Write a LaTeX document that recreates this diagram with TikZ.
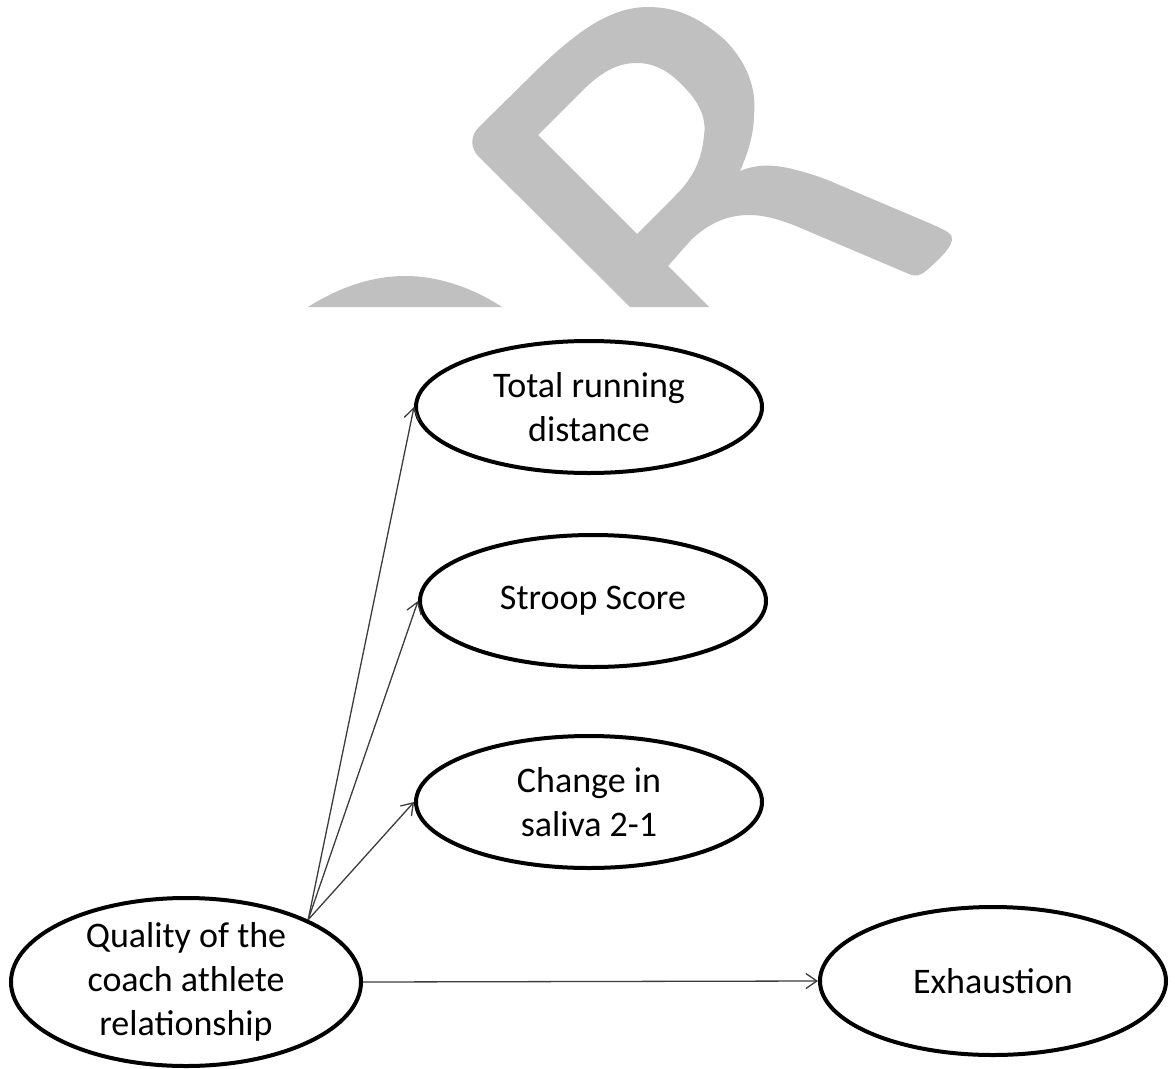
\documentclass[tikz,border=0pt]{standalone}
\usepackage{fontspec}
\setmainfont{Carlito}
\usetikzlibrary{shapes.geometric, arrows.meta}
\definecolor{markgray}{RGB}{192, 192, 192}
\definecolor{linkgray}{RGB}{60, 60, 60}
\tikzset{
  varnode/.style={draw=black, ellipse, line width=4pt, minimum width=346pt, minimum height=132pt, inner sep=0pt, align=center, font=\fontsize{36}{44}\selectfont},
  link/.style={draw=linkgray, line width=1.3pt, -{Straight Barb[length=11pt, width=15pt]}}
}

\begin{document}
\begin{tikzpicture}[x=1pt, y=-1pt]
  \useasboundingbox (0,0) rectangle (1175,1068);

  % Watermark
  \fill[markgray, even odd rule]
    (630,307) -- (479,157) .. controls (470,148) and (470,136) .. (479,127)
    -- (540,67) .. controls (574,35) and (608,7) .. (648,7)
    .. controls (680,7) and (702,20) .. (725,40)
    .. controls (752,68) and (756,95) .. (754,115)
    .. controls (754,135) and (747,155) .. (740,171)
    .. controls (754,165) and (770,164) .. (788,168)
    .. controls (806,172) and (824,178) .. (837,184)
    -- (929,223) .. controls (945,230) and (954,234) .. (952,240)
    .. controls (950,250) and (936,262) .. (927,270)
    .. controls (920,276) and (916,277) .. (909,274)
    -- (810,232) .. controls (792,224) and (770,215) .. (749,215)
    .. controls (725,215) and (707,225) .. (691,240)
    -- (668,266) -- (709,307) -- cycle
    (538,135) -- (581,92) .. controls (603,70) and (619,63) .. (637,63)
    .. controls (653,63) and (668,70) .. (682,85)
    .. controls (698,100) and (707,118) .. (704,135)
    .. controls (702,160) and (693,178) .. (675,196)
    -- (637,234) -- cycle;
  \fill[markgray] (308,307) .. controls (338,288) and (371,276) .. (405,276)
    .. controls (439,276) and (473,288) .. (502,307) -- cycle;

  % Variables
  \node[varnode] (run) at (589,407) {Total running\\distance};
  \node[varnode] (stroop) at (593,601) {Stroop Score};
  \node[varnode] (saliva) at (589,802) {Change in\\saliva 2-1};
  \node[varnode, minimum width=350pt, minimum height=156pt] (quality) at (186,982) {Quality of the\\coach athlete\\relationship};
  \node[varnode, minimum height=148pt] (exhaust) at (993,981) {Exhaustion};

  % Paths
  \draw[link] (quality.27) -- (run.west);
  \draw[link] (quality.27) -- (stroop.west);
  \draw[link] (quality.27) -- (saliva.west);
  \draw[link] (quality.east) -- (exhaust.west);
\end{tikzpicture}
\end{document}
